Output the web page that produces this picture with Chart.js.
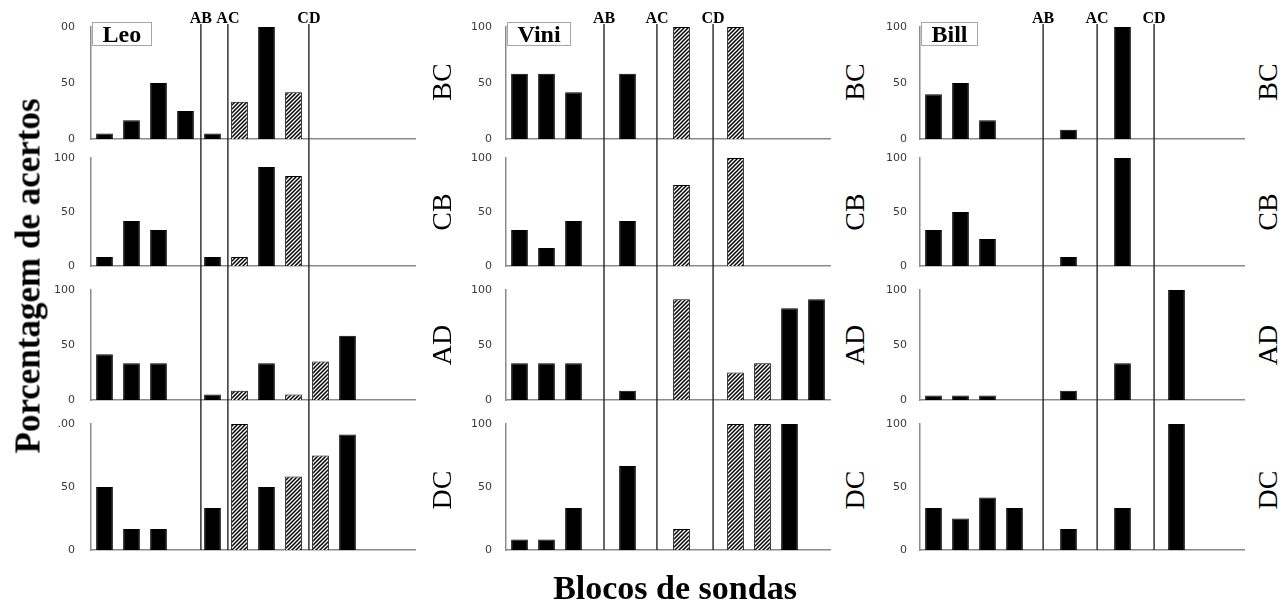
<!DOCTYPE html>
<html><head><meta charset="utf-8">
<script src="https://cdn.jsdelivr.net/npm/chart.js@4.4.1/dist/chart.umd.min.js"></script>
<style>
html,body{margin:0;padding:0;background:#fff;}
#wrap{position:relative;width:1282px;height:603px;overflow:hidden;background:#fff;}
#wrap canvas{position:absolute;}
.lbl{position:absolute;white-space:nowrap;font-family:"Liberation Serif","Times New Roman",serif;color:#000;line-height:1;}
.rot{transform:translate(-50%,-50%) rotate(-90deg);}
.hor{transform:translate(-50%,-50%);}
</style></head><body><div id="wrap"></div>
<script>
// ---------- DATA ----------
const slots = ['', '', '', '', '', '', '', '', '', '', '', ''];
const participants = ['Leo', 'Vini', 'Bill'];
const probes = ['BC', 'CB', 'AD', 'DC'];
const phaseNames = ['AB', 'AC', 'CD'];
const yTickLabels = ['0', '50', '100'];
const leoTopTickLabels = ['00', '100', '100', '.00'];
const yTitle = 'Porcentagem de acertos';
const xTitle = 'Blocos de sondas';

// phase boundary positions (in category units) for each participant
const leoPhases  = [3.57, 4.57, 7.57];
const viniPhases = [3.13, 5.09, 7.17];
const billPhases = [4.06, 6.06, 8.17];

// Leo
const leoBC_solid   = [5, 16.7, 50, 25, 5, null, 100, null, null, null, null, null];
const leoBC_hatched = [null, null, null, null, null, 33.3, null, 41.7, null, null, null, null];
const leoCB_solid   = [8.3, 41.7, 33.3, null, 8.3, null, 91.7, null, null, null, null, null];
const leoCB_hatched = [null, null, null, null, null, 8.3, null, 83.3, null, null, null, null];
const leoAD_solid   = [41.7, 33.3, 33.3, null, 5, null, 33.3, null, null, 58.3, null, null];
const leoAD_hatched = [null, null, null, null, null, 8.3, null, 5, 35, null, null, null];
const leoDC_solid   = [50, 16.7, 16.7, null, 33.3, null, 50, null, null, 91.7, null, null];
const leoDC_hatched = [null, null, null, null, null, 100, null, 58.3, 75, null, null, null];
// Vini
const viniBC_solid   = [58.3, 58.3, 41.7, null, 58.3, null, null, null, null, null, null, null];
const viniBC_hatched = [null, null, null, null, null, null, 100, null, 100, null, null, null];
const viniCB_solid   = [33.3, 16.7, 41.7, null, 41.7, null, null, null, null, null, null, null];
const viniCB_hatched = [null, null, null, null, null, null, 75, null, 100, null, null, null];
const viniAD_solid   = [33.3, 33.3, 33.3, null, 8.3, null, null, null, null, null, 83.3, 91.7];
const viniAD_hatched = [null, null, null, null, null, null, 91.7, null, 25, 33.3, null, null];
const viniDC_solid   = [8.3, 8.3, 33.3, null, 66.7, null, null, null, null, null, 100, null];
const viniDC_hatched = [null, null, null, null, null, null, 16.7, null, 100, 100, null, null];
// Bill
const billBC_solid   = [40, 50, 16.7, null, null, 8.3, null, 100, null, null, null, null];
const billCB_solid   = [33.3, 50, 25, null, null, 8.3, null, 100, null, null, null, null];
const billAD_solid   = [4, 4, 4, null, null, 8.3, null, 33.3, null, 100, null, null];
const billDC_solid   = [33.3, 25, 41.7, 33.3, null, 16.7, null, 33.3, null, 100, null, null];
const billNone       = [null, null, null, null, null, null, null, null, null, null, null, null];

// ---------- LAYOUT ----------
const panels = [
  [[leoBC_solid, leoBC_hatched], [leoCB_solid, leoCB_hatched], [leoAD_solid, leoAD_hatched], [leoDC_solid, leoDC_hatched]],
  [[viniBC_solid, viniBC_hatched], [viniCB_solid, viniCB_hatched], [viniAD_solid, viniAD_hatched], [viniDC_solid, viniDC_hatched]],
  [[billBC_solid, billNone], [billCB_solid, billNone], [billAD_solid, billNone], [billDC_solid, billNone]]
];
const phaseSets = [leoPhases, viniPhases, billPhases];
const axisX = [91, 506, 920];
const plotW = 324;
const yAxisW = 50;
const rightPad = 6;
const rowY100 = [27, 158, 290, 424];
const rowY0 = [139, 266, 400, 550];
const rowTop = [0, 148, 281, 413];
const rowBottom = [148, 281, 413, 603];
const tickPad = [16, 14, 13];
const rowLabelX = [442, 855, 1268];
const rowLabelY = [82, 212, 345, 490];

const wrap = document.getElementById('wrap');

// hatch pattern
function makeHatch() {
  const c = document.createElement('canvas');
  c.width = 4; c.height = 4;
  const g = c.getContext('2d');
  g.fillStyle = '#fff'; g.fillRect(0, 0, 4, 4);
  g.strokeStyle = '#000'; g.lineWidth = 1.5;
  g.beginPath();
  g.moveTo(-1, 5); g.lineTo(5, -1);
  g.moveTo(-1, 1); g.lineTo(1, -1);
  g.moveTo(3, 5); g.lineTo(5, 3);
  g.stroke();
  return g.createPattern(c, 'repeat');
}
const hatch = makeHatch();

const phasePlugin = {
  id: 'phase',
  afterDatasetsDraw(chart, args, opts) {
    const ctx = chart.ctx;
    const xs = chart.scales.x;
    ctx.save();
    ctx.strokeStyle = '#262626';
    ctx.lineWidth = 1.4;
    opts.lines.forEach((v, i) => {
      const x = xs.getPixelForValue(v);
      ctx.beginPath();
      ctx.moveTo(x, opts.y1);
      ctx.lineTo(x, opts.y2);
      ctx.stroke();
      if (opts.top) {
        ctx.font = 'bold 16px "Liberation Serif"';
        ctx.textAlign = 'center';
        ctx.textBaseline = 'alphabetic';
        ctx.fillStyle = '#000';
        ctx.fillText(phaseNames[i], x, 23);
      }
    });
    if (opts.name) {
      ctx.font = 'bold 24px "Liberation Serif"';
      const tw = ctx.measureText(opts.name).width;
      const bx = chart.chartArea.left + 1.5, by = 22.5, bw = Math.round(tw + 20), bh = 23;
      ctx.fillStyle = '#fff';
      ctx.fillRect(bx, by, bw, bh);
      ctx.strokeStyle = '#a6a6a6';
      ctx.lineWidth = 1;
      ctx.strokeRect(bx, by, bw, bh);
      ctx.fillStyle = '#000';
      ctx.textAlign = 'left';
      ctx.textBaseline = 'alphabetic';
      ctx.fillText(opts.name, bx + 10, 42);
    }
    ctx.restore();
  }
};

for (let c = 0; c < 3; c++) {
  for (let r = 0; r < 4; r++) {
    const cv = document.createElement('canvas');
    const w = yAxisW + plotW + rightPad;
    const h = rowBottom[r] - rowTop[r];
    cv.width = w; cv.height = h;
    cv.style.left = (axisX[c] - yAxisW) + 'px';
    cv.style.top = rowTop[r] + 'px';
    cv.style.width = w + 'px'; cv.style.height = h + 'px';
    wrap.appendChild(cv);
    const [solid, hatched] = panels[c][r];
    const topLabel = c === 0 ? leoTopTickLabels[r] : yTickLabels[2];
    new Chart(cv, {
      type: 'bar',
      data: {
        labels: slots,
        datasets: [
          { data: solid, backgroundColor: '#000', borderColor: '#000', borderWidth: 1, grouped: false },
          { data: hatched, backgroundColor: hatch, borderColor: '#000', borderWidth: 1, grouped: false }
        ]
      },
      options: {
        responsive: false,
        animation: false,
        layout: { padding: { left: 0, right: rightPad, top: rowY100[r] - rowTop[r], bottom: rowBottom[r] - rowY0[r] } },
        datasets: { bar: { barPercentage: 0.62, categoryPercentage: 1 } },
        plugins: {
          legend: { display: false },
          tooltip: { enabled: false },
          phase: {
            lines: phaseSets[c],
            y1: r === 0 ? 24 : 0,
            y2: r === 3 ? rowY0[3] - rowTop[3] : h,
            top: r === 0,
            name: r === 0 ? participants[c] : null
          }
        },
        scales: {
          x: {
            grid: { display: false, drawTicks: false },
            ticks: { display: false },
            border: { display: true, color: '#8a8a8a', width: 1.5 },
            afterFit: s => { s.height = 0; s.paddingLeft = 0; s.paddingRight = 0; }
          },
          y: {
            min: 0, max: 100,
            grid: { display: false, drawTicks: false },
            border: { display: true, color: '#8a8a8a', width: 1.5 },
            ticks: {
              stepSize: 50,
              padding: tickPad[c],
              color: '#3a3a3a',
              font: { family: 'DejaVu Sans', size: 11 },
              callback: v => v === 100 ? topLabel : (v === 50 ? yTickLabels[1] : yTickLabels[0])
            },
            afterFit: s => { s.width = yAxisW; s.paddingTop = 0; s.paddingBottom = 0; }
          }
        }
      },
      plugins: [phasePlugin]
    });
  }
}

// row labels on the right of each column
for (let c = 0; c < 3; c++) {
  for (let r = 0; r < 4; r++) {
    const d = document.createElement('div');
    d.className = 'lbl rot';
    d.style.fontSize = '28px';
    d.style.left = rowLabelX[c] + 'px';
    d.style.top = rowLabelY[r] + 'px';
    d.textContent = probes[r];
    wrap.appendChild(d);
  }
}
// axis titles
const yt = document.createElement('div');
yt.className = 'lbl rot';
yt.style.fontSize = '35px'; yt.style.fontWeight = 'bold';
yt.style.left = '28px'; yt.style.top = '276px';
yt.textContent = yTitle;
wrap.appendChild(yt);
const xt = document.createElement('div');
xt.className = 'lbl hor';
xt.style.fontSize = '34px'; xt.style.fontWeight = 'bold';
xt.style.left = '675px'; xt.style.top = '588px';
xt.textContent = xTitle;
wrap.appendChild(xt);
</script>
</body></html>
